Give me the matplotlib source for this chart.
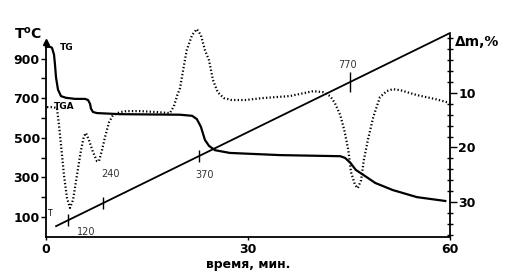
import numpy as np
import matplotlib.pyplot as plt
from matplotlib.ticker import MultipleLocator, FixedLocator

# temperature programme (straight line), left axis, deg C
t_line = [1.5, 60.0]
T_line = [53, 1030]
# marks on the T line
mark_t = [3.3, 8.5, 22.7, 45.2]
mark_lbl = ['120', '240', '370', '770']
mark_len = [8, 8, 8, 14]
lbl_off = [(18, -12), (7, 29), (6, -19), (-3, 17)]

# DTA trace (dotted), drawn on the left scale
dta_t = [0.15, 1.04, 1.63, 1.93, 2.23, 2.67, 3.12, 3.56, 4.01, 4.6, 5.2, 5.64, 5.94,
         6.38, 6.98, 7.57, 7.87, 8.32, 8.76, 9.36, 9.95, 11.0, 12.0, 14.0, 16.5, 18.4,
         19.0, 19.5, 19.9, 20.5, 20.9, 21.7, 22.4, 23.0, 23.6, 24.2, 24.8, 25.5, 26.4,
         27.6, 29.6, 32.2, 36.2, 39.7, 41.1, 42.2, 42.9, 43.7, 44.3, 44.9, 45.3, 45.9,
         46.3, 46.8, 47.2, 47.8, 48.6, 49.6, 50.6, 51.5, 52.6, 55.1, 57.8, 60.0]
dta_v = [655, 655, 650, 564, 463, 311, 195, 145, 185, 311, 438, 509, 524,
         488, 428, 382, 382, 438, 503, 579, 615, 630, 635, 635, 630, 625,
         660, 716, 751, 868, 944, 1020, 1050, 1020, 944, 893, 792, 731, 701,
         691, 691, 701, 711, 736, 731, 711, 676, 615, 539, 438, 326, 261,
         245, 286, 387, 488, 605, 706, 736, 746, 741, 716, 696, 676]

# TG mass loss, right axis, %
tg_t = [0, 0.59, 0.89, 1.19, 1.34, 1.49, 1.78, 2.23, 2.97, 4.3, 5.8, 6.24, 6.54, 6.68,
        6.98, 7.57, 11.0, 19.9, 21.7, 22.4, 23.0, 23.6, 24.2, 25.1, 27.3, 34.8, 43.7,
        44.4, 45.2, 46.0, 47.1, 48.9, 51.5, 55.1, 59.3]
tg_m = [1.56, 1.56, 1.74, 3.0, 4.9, 7.2, 9.4, 10.6, 10.9, 11.1, 11.1, 11.3, 12.0, 12.9,
        13.5, 13.7, 13.9, 14.0, 14.2, 14.8, 16.2, 18.6, 19.7, 20.5, 21.0, 21.4, 21.6,
        21.9, 22.8, 24.1, 25.0, 26.5, 27.8, 29.1, 29.8]

fig = plt.figure(figsize=(5.29, 2.77), dpi=100)
ax = fig.add_axes([0.08696, 0.1444, 0.7637, 0.7292])
ax2 = ax.twinx()

ax.plot(t_line, T_line, color='black', lw=1.3, clip_on=False)
mark_T = np.interp(mark_t, t_line, T_line)
for mt, mT, lb, ml, off in zip(mark_t, mark_T, mark_lbl, mark_len, lbl_off):
    ax.plot(mt, mT, marker='|', ms=ml, mew=1.0, color='black')
    ax.annotate(lb, (mt, mT), xytext=off, textcoords='offset pixels',
                ha='center', va='center', fontsize=7, color='#333333')

ax.plot(dta_t, dta_v, color='black', lw=1.6, ls=(0, (0.6, 1.0)), clip_on=False)
ax2.plot(tg_t, tg_m, color='black', lw=1.6, clip_on=False)

ax.set_xlim(0, 60)
ax.set_ylim(-2, 1020)
ax2.set_ylim(36.4, -0.6)

for a in (ax, ax2):
    a.spines['top'].set_visible(False)
ax.spines['right'].set_visible(False)
ax.spines['left'].set_bounds(-2, 985)
ax.plot(0, 985, marker='^', ms=5, color='black', clip_on=False)
ax2.spines['left'].set_visible(False)
ax2.spines['bottom'].set_visible(False)
for s in ('left', 'bottom'):
    ax.spines[s].set_linewidth(1.3)
ax2.spines['right'].set_linewidth(1.3)

bold = dict(fontsize=9, fontweight='bold')
ax.yaxis.set_major_locator(FixedLocator([100, 300, 500, 700, 900]))
ax.yaxis.set_minor_locator(FixedLocator([200, 400, 600, 800]))
ax.set_yticklabels(['100', '300', '500', '700', '900'], **bold)
ax.tick_params(axis='y', which='both', direction='out', length=3.5, width=1, pad=1)
ax.set_xticks([0, 30, 60])
ax.set_xticklabels(['0', '30', '60'], **bold)
ax.tick_params(axis='x', direction='out', length=2.5, width=1, pad=1.5)

ax2.yaxis.set_major_locator(FixedLocator([10, 20, 30]))
ax2.yaxis.set_minor_locator(MultipleLocator(2))
ax2.set_yticklabels(['10', '20', '30'], **bold)
ax2.tick_params(axis='y', which='major', direction='out', length=5, width=1, pad=1)
ax2.tick_params(axis='y', which='minor', direction='inout', length=4, width=1)

ax.set_xlabel('время, мин.', fontsize=9, fontweight='bold', labelpad=2)

fig.text(14 / 529, 1 - 34 / 277, r'T$^{\mathbf{o}}$C', fontsize=10, fontweight='bold',
         ha='left', va='center')
fig.text(455 / 529, 1 - 42 / 277, 'Δm,%', fontsize=10, fontweight='bold',
         ha='left', va='center')
fig.text(60 / 529, 1 - 47 / 277, 'TG', fontsize=6.5, fontweight='bold', ha='left', va='center')
fig.text(54 / 529, 1 - 107 / 277, 'TGA', fontsize=6.5, fontweight='bold', ha='left', va='center')
fig.text(48 / 529, 1 - 214 / 277, 'T', fontsize=5.5, ha='left', va='center')

fig.savefig('out.png', dpi=100)
